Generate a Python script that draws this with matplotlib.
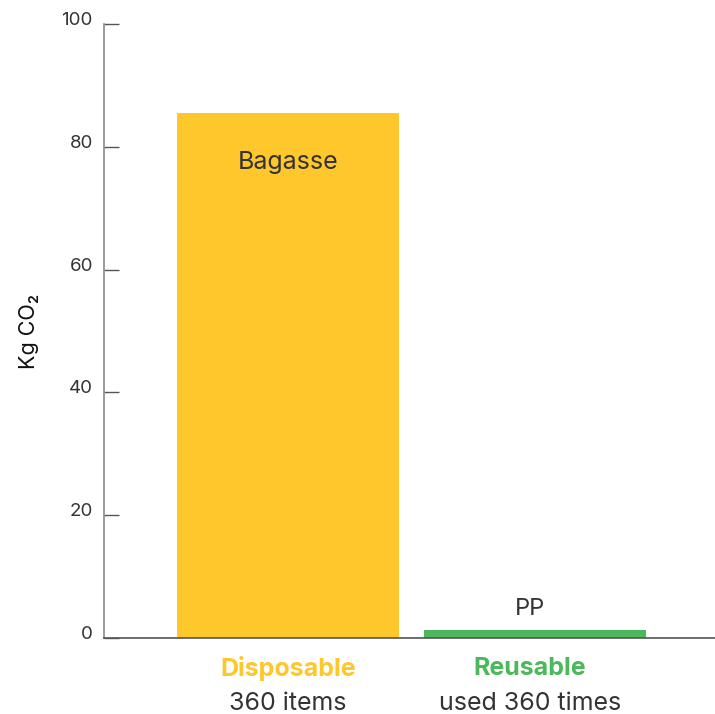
import numpy as np
import matplotlib.pyplot as plt
from matplotlib import transforms

plt.rcParams['font.family'] = ['Inter', 'DejaVu Sans']

materials = ['Bagasse', 'PP']
values = [85.5, 1.3]
groups = ['Disposable', 'Reusable']
subtitles = ['360 items', 'used 360 times']
colors = ['#FEC72B', '#4CB85C']
yticks = [0, 20, 40, 60, 80, 100]

text_col = '#333333'

fig = plt.figure(figsize=(7.15, 7.14), dpi=100)
ax = fig.add_axes([104 / 715, 76 / 714, 1 - 104 / 715, (638 - 24) / 714])

x = np.arange(len(values))
bars = ax.bar(x, values, width=0.9, color=colors, zorder=2)

ax.set_xlim(-0.745, 1.729)
ax.set_ylim(0, 100)

for s in ['top', 'right']:
    ax.spines[s].set_visible(False)
ax.spines['left'].set_color('#8a8a8a')
ax.spines['bottom'].set_color('#555555')
ax.spines['left'].set_linewidth(1.2)
ax.spines['bottom'].set_linewidth(1.2)

ax.set_xticks([])
ax.set_yticks(yticks)
ax.set_yticklabels([str(t) for t in yticks])
ax.tick_params(axis='y', direction='in', length=11, width=1, color='#555555',
               pad=8, labelsize=13.5, labelcolor=text_col)
shift = transforms.ScaledTranslation(0, 4 / 72, fig.dpi_scale_trans)
for lbl in ax.get_yticklabels():
    lbl.set_transform(lbl.get_transform() + shift)

ax.set_ylabel('Kg CO\u2082', fontsize=15.5, color='#111111', labelpad=16)

# material labels
ax.text(x[0], values[0] - 8, materials[0], ha='center', va='center',
        fontsize=18, color=text_col)
ax.text(x[1] - 0.02, values[1] + 3.5, materials[1], ha='center', va='center',
        fontsize=17, color=text_col)

# group labels below the axis
trans = transforms.blended_transform_factory(ax.transData, ax.transAxes)
for i in range(len(groups)):
    ax.text(x[i] - 0.02 * i, -0.05, groups[i], transform=trans, ha='center',
            va='center', fontsize=18, fontweight='bold', color=colors[i])
    ax.text(x[i] - 0.02 * i, -0.106, subtitles[i], transform=trans,
            ha='center', va='center', fontsize=18, color=text_col)

fig.savefig('out.png', dpi=100)
